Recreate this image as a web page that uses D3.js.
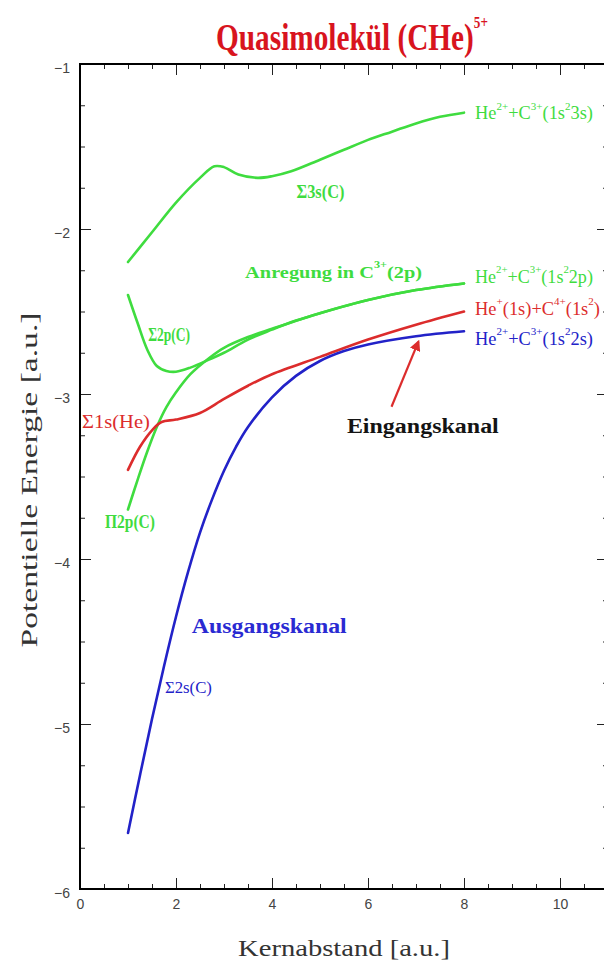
<!DOCTYPE html>
<html>
<head>
<meta charset="utf-8">
<script src="https://cdn.jsdelivr.net/npm/d3@7"></script>
<style>
  body { margin: 0; background: #fff; }
  svg { display: block; }
</style>
</head>
<body>
<svg id="chart" width="604" height="971"></svg>
<script>
// potential curves (x = Kernabstand, e = energy, a.u.)
const sigma3sX = [1.0, 1.5, 2.0, 2.5, 2.8, 3.0, 3.3, 3.7, 4.0, 4.4, 5.0, 5.5, 6.0, 6.5, 7.0, 7.5, 8.0];
const sigma3sE = [-2.20, -2.02, -1.84, -1.69, -1.62, -1.625, -1.67, -1.69, -1.68, -1.65, -1.58, -1.52, -1.46, -1.41, -1.36, -1.32, -1.295];

const sigma2pX = [1.0, 1.2, 1.4, 1.6, 1.8, 2.0, 2.3, 2.7, 3.0, 3.5, 4.0, 4.5, 5.0, 6.0, 7.0, 8.0];
const sigma2pE = [-2.40, -2.57, -2.73, -2.83, -2.86, -2.865, -2.84, -2.79, -2.75, -2.67, -2.61, -2.555, -2.51, -2.43, -2.37, -2.33];

const pi2pX = [1.0, 1.2, 1.4, 1.6, 1.8, 2.0, 2.3, 2.7, 3.0, 3.5, 4.0, 5.0, 6.0, 7.0, 8.0];
const pi2pE = [-3.70, -3.52, -3.35, -3.20, -3.08, -2.99, -2.88, -2.78, -2.72, -2.655, -2.605, -2.51, -2.43, -2.37, -2.33];

const sigma1sX = [1.0, 1.25, 1.5, 1.7, 2.0, 2.5, 3.0, 3.5, 4.0, 5.0, 6.0, 7.0, 8.0];
const sigma1sE = [-3.46, -3.32, -3.22, -3.17, -3.155, -3.115, -3.03, -2.95, -2.88, -2.775, -2.67, -2.58, -2.50];

const sigma2sX = [1.0, 1.25, 1.5, 1.75, 2.0, 2.25, 2.5, 2.75, 3.0, 3.25, 3.5, 4.0, 4.5, 5.0, 5.5, 6.0, 7.0, 8.0];
const sigma2sE = [-5.66, -5.31, -4.97, -4.65, -4.35, -4.08, -3.84, -3.64, -3.465, -3.32, -3.20, -3.02, -2.89, -2.80, -2.74, -2.70, -2.65, -2.62];

// axis ticks
const xMajor = [0, 2, 4, 6, 8, 10];
const xMinor = d3.range(0, 11.01, 0.5);
const yMajor = [-1, -2, -3, -4, -5, -6];
const yMinor = d3.range(-6, -0.99, 0.25);

// texts
const titleText = "Quasimolekül (CHe)^{5+}";
const xTitle = "Kernabstand [a.u.]";
const yTitle = "Potentielle Energie [a.u.]";

const green = "#3fdc3f", red = "#dc2c2c", blue = "#2222c8";

const curves = [
  { xs: sigma3sX, es: sigma3sE, color: green },
  { xs: sigma2pX, es: sigma2pE, color: green },
  { xs: pi2pX, es: pi2pE, color: green },
  { xs: sigma1sX, es: sigma1sE, color: red },
  { xs: sigma2sX, es: sigma2sE, color: blue }
];

// annotations in data units (x, e), target width in px
const notes = [
  { t: "He^{2+}+C^{3+}(1s^{2}3s)", x: 8.23, e: -1.30, w: 118, size: 18, c: green },
  { t: "He^{2+}+C^{3+}(1s^{2}2p)", x: 8.23, e: -2.29, w: 118, size: 18, c: green },
  { t: "He^{+}(1s)+C^{4+}(1s^{2})", x: 8.23, e: -2.485, w: 125, size: 18, c: red },
  { t: "He^{2+}+C^{3+}(1s^{2}2s)", x: 8.23, e: -2.667, w: 118, size: 18, c: blue },
  { t: "Σ3s(C)", x: 4.51, e: -1.776, w: 48, size: 18, c: green, bold: true },
  { t: "Anregung in C^{3+}(2p)", x: 3.44, e: -2.26, w: 177, size: 17, c: green, bold: true },
  { t: "Σ2p(C)", x: 1.42, e: -2.64, w: 42, size: 18, c: green, bold: true },
  { t: "Σ1s(He)", x: 0.04, e: -3.164, w: 68, size: 18, c: red },
  { t: "Π2p(C)", x: 0.52, e: -3.776, w: 50, size: 18, c: green, bold: true },
  { t: "Σ2s(C)", x: 1.77, e: -4.776, w: 47, size: 17, c: blue },
  { t: "Ausgangskanal", x: 2.33, e: -4.40, w: 155, size: 22, c: "#2a2ad2", bold: true },
  { t: "Eingangskanal", x: 5.56, e: -3.19, w: 152, size: 22, c: "#141414", bold: true }
];
const arrowFrom = [6.49, -3.077], arrowTo = [7.05, -2.683];

const svg = d3.select("#chart");
const x = d3.scaleLinear().domain([0, 11]).range([80, 608]);
const y = d3.scaleLinear().domain([-1, -6]).range([64, 889]);

// rich text: "^{..}" becomes superscript; scaled in x to the target width
function rich(px, py, s, size, opt) {
  const g = svg.append("g").attr("transform", `translate(${px},${py})`);
  const inner = g.append("g");
  const t = inner.append("text")
    .attr("font-family", opt.family || "'Liberation Serif', 'Times New Roman', serif")
    .attr("font-size", size)
    .attr("font-weight", opt.bold ? "bold" : "normal")
    .attr("fill", opt.color)
    .attr("text-anchor", opt.anchor || "start")
    .attr("dominant-baseline", "central");
  const tokens = s.split(/(\^\{[^}]*\})/).filter(Boolean);
  let up = 0;
  tokens.forEach(tok => {
    const sup = tok.startsWith("^{");
    const target = sup ? -size * 0.42 : 0;
    t.append("tspan").attr("dy", target - up)
      .attr("font-size", sup ? size * (opt.supScale || 0.6) : size)
      .text(sup ? tok.slice(2, -1) : tok);
    up = target;
  });
  if (opt.width) {
    const w = t.node().getBBox().width;
    inner.attr("transform", `scale(${opt.width / w},1)`);
  }
  if (opt.rotate) g.attr("transform", `translate(${px},${py}) rotate(${opt.rotate})`);
  return g;
}

// title
rich(352, 37, titleText, 38, { bold: true, color: "#d8141e", anchor: "middle", width: 272, supScale: 0.45 });

// ticks (inside the frame)
const tickStyle = sel => {
  sel.select(".domain").remove();
  sel.selectAll(".tick line").attr("stroke", "#222").attr("stroke-width", 1);
};
svg.append("g").attr("transform", `translate(0,${y(-6)})`)
  .call(d3.axisBottom(x).tickValues(xMinor).tickSize(-5).tickFormat("")).call(tickStyle);
svg.append("g").attr("transform", `translate(0,${y(-1)})`)
  .call(d3.axisTop(x).tickValues(xMinor).tickSize(-5).tickFormat("")).call(tickStyle);
svg.append("g").attr("transform", `translate(0,${y(-6)})`)
  .call(d3.axisBottom(x).tickValues(xMajor).tickSize(-11).tickPadding(10).tickFormat(d3.format("d")))
  .call(tickStyle)
  .call(g => g.selectAll("text").attr("font-family", "'Liberation Sans', Arial, sans-serif")
    .attr("font-size", 14).attr("fill", "#444"));
svg.append("g").attr("transform", `translate(0,${y(-1)})`)
  .call(d3.axisTop(x).tickValues(xMajor).tickSize(-11).tickFormat("")).call(tickStyle);

svg.append("g").attr("transform", `translate(${x(0)},0)`)
  .call(d3.axisLeft(y).tickValues(yMinor).tickSize(-5).tickFormat("")).call(tickStyle);
svg.append("g").attr("transform", `translate(${x(11)},0)`)
  .call(d3.axisRight(y).tickValues(yMinor).tickSize(-5).tickFormat("")).call(tickStyle);
svg.append("g").attr("transform", `translate(${x(0)},0)`)
  .call(d3.axisLeft(y).tickValues(yMajor).tickSize(-11).tickPadding(10).tickFormat(d3.format("d")))
  .call(tickStyle)
  .call(g => g.selectAll("text").attr("font-family", "'Liberation Sans', Arial, sans-serif")
    .attr("font-size", 14).attr("fill", "#444").attr("dy", "0.6em"));
svg.append("g").attr("transform", `translate(${x(11)},0)`)
  .call(d3.axisRight(y).tickValues(yMajor).tickSize(-11).tickFormat("")).call(tickStyle);

// frame
svg.append("rect")
  .attr("x", x(0)).attr("y", y(-1))
  .attr("width", x(11) - x(0)).attr("height", y(-6) - y(-1))
  .attr("fill", "none").attr("stroke", "#000").attr("stroke-width", 2);

// axis titles
rich(344, 948, xTitle, 24, { color: "#333", anchor: "middle", width: 212 });
rich(29, 480, yTitle, 24, { color: "#333", anchor: "middle", width: 335, rotate: -90 });

// curves
const line = d3.line().x(d => x(d[0])).y(d => y(d[1])).curve(d3.curveCatmullRom.alpha(0.5));
curves.forEach(c => {
  svg.append("path")
    .datum(c.xs.map((v, i) => [v, c.es[i]]))
    .attr("d", line)
    .attr("fill", "none")
    .attr("stroke", c.color)
    .attr("stroke-width", 2.6)
    .attr("stroke-linecap", "round");
});

// arrow to the entrance channel
svg.append("defs").append("marker")
  .attr("id", "head").attr("viewBox", "0 0 10 10").attr("refX", 8).attr("refY", 5)
  .attr("markerWidth", 5).attr("markerHeight", 5).attr("orient", "auto")
  .append("path").attr("d", "M0,0L10,5L0,10z").attr("fill", red);
svg.append("line")
  .attr("x1", x(arrowFrom[0])).attr("y1", y(arrowFrom[1]))
  .attr("x2", x(arrowTo[0])).attr("y2", y(arrowTo[1]))
  .attr("stroke", red).attr("stroke-width", 2.2)
  .attr("marker-end", "url(#head)");

// labels
notes.forEach(n => {
  rich(x(n.x), y(n.e), n.t, n.size, { color: n.c, bold: n.bold, width: n.w });
});
</script>
</body>
</html>
